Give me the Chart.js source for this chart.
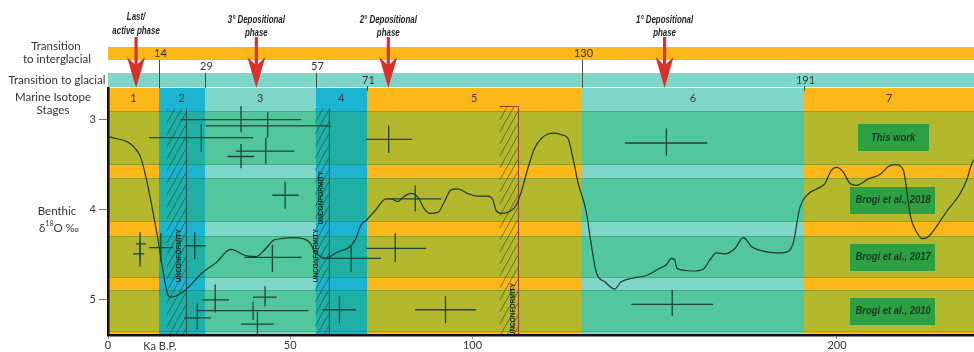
<!DOCTYPE html>
<html><head><meta charset="utf-8">
<script src="https://cdn.jsdelivr.net/npm/chart.js@4.4.0/dist/chart.umd.min.js"></script>
<style>html,body{margin:0;padding:0;background:#fff}#wrap{width:974px;height:352px;position:relative}</style>
</head><body><div id="wrap"><canvas id="c"></canvas></div>
<script>
// ---------- DATA ----------
const curveAge = [0.3, 8.5, 13.1, 14.9, 16.3, 17.2, 19.5, 21.3, 25.9, 29.6, 33.7, 37.8, 40.6, 43.3, 45.4, 47.9, 50.6, 53.4, 55.5, 56.6, 58.0, 59.3, 63.0, 66.7, 68.0, 69.4, 70.8, 73.1, 76.3, 77.7, 79.5, 81.3, 83.2, 85.0, 86.8, 88.2, 90.5, 92.3, 94.1, 96.0, 98.7, 101.5, 104.2, 105.6, 106.5, 107.9, 110.2, 112.0, 113.4, 115.2, 117.0, 118.9, 120.7, 122.5, 124.5, 126.2, 127.6, 128.9, 131.2, 132.6, 134.0, 136.3, 139.0, 140.8, 144.0, 147.7, 151.4, 153.2, 154.6, 155.5, 156.1, 157.8, 160.5, 163.3, 165.1, 166.9, 169.2, 172.0, 174.3, 176.6, 179.8, 183.4, 186.1, 188.0, 189.8, 191.7, 194.4, 196.7, 198.5, 199.9, 201.7, 203.6, 205.4, 208.6, 211.8, 214.1, 215.9, 218.2, 219.1, 220.2, 221.9, 223.3, 225.1, 226.9, 230.1, 233.8, 235.6, 237.0, 238.0];
const curveD18O = [3.19, 3.38, 4.19, 4.63, 4.93, 4.97, 4.94, 4.89, 4.70, 4.59, 4.44, 4.51, 4.52, 4.43, 4.34, 4.32, 4.31, 4.32, 4.37, 4.46, 4.51, 4.54, 4.47, 4.40, 4.32, 4.17, 4.12, 4.02, 3.88, 3.88, 3.91, 3.85, 3.82, 3.86, 3.99, 4.04, 4.03, 3.91, 3.78, 3.77, 3.82, 3.85, 3.85, 3.89, 4.01, 4.04, 4.02, 3.95, 3.80, 3.54, 3.32, 3.21, 3.16, 3.15, 3.17, 3.21, 3.43, 3.69, 4.02, 4.39, 4.70, 4.80, 4.88, 4.80, 4.76, 4.73, 4.65, 4.61, 4.54, 4.56, 4.65, 4.67, 4.68, 4.66, 4.56, 4.48, 4.49, 4.43, 4.31, 4.41, 4.46, 4.48, 4.47, 4.37, 3.98, 3.84, 3.77, 3.71, 3.56, 3.53, 3.58, 3.71, 3.73, 3.66, 3.61, 3.52, 3.50, 3.56, 3.77, 4.08, 4.25, 4.32, 4.30, 4.21, 4.02, 3.82, 3.67, 3.49, 3.42];

const crossAge     = [36.5, 43.8, 25.6, 43.3, 36.5, 77.0, 153.2, 48.6, 84.3, 8.8, 8.8, 14.5, 23.8, 45.1, 78.8, 66.7, 29.4, 43.1, 39.8, 24.5, 41.0, 63.5, 92.6, 154.8];
const crossD18O    = [3.00, 3.07, 3.20, 3.35, 3.41, 3.22, 3.26, 3.84, 3.88, 4.38, 4.49, 4.42, 4.40, 4.53, 4.43, 4.54, 5.00, 4.97, 5.12, 5.20, 5.27, 5.11, 5.11, 5.05];
const crossAgeMin  = [19.9, 26.8, 11.3, 35.1, 32.8, 70.8, 141.8, 45.1, 77.2, 7.7, 6.9, 11.3, 21.1, 37.4, 70.8, 58.9, 25.9, 39.8, 24.5, 20.9, 36.5, 58.9, 84.3, 143.6];
const crossAgeMax  = [53.0, 61.2, 39.8, 51.1, 40.1, 83.4, 164.4, 52.3, 91.4, 10.4, 9.9, 17.9, 26.8, 53.1, 87.3, 74.9, 33.2, 46.3, 55.0, 28.2, 45.6, 68.0, 101.0, 166.0];
const crossD18OMin = [2.85, 2.92, 3.05, 3.20, 3.27, 3.07, 3.10, 3.69, 3.73, 4.25, 4.35, 4.26, 4.25, 4.39, 4.26, 4.39, 4.83, 4.85, 5.02, 5.04, 5.13, 4.96, 4.96, 4.89];
const crossD18OMax = [3.14, 3.20, 3.36, 3.49, 3.54, 3.37, 3.40, 3.99, 4.02, 4.55, 4.63, 4.58, 4.55, 4.69, 4.58, 4.69, 5.14, 5.07, 5.22, 5.33, 5.39, 5.26, 5.26, 5.18];

const stageNumber  = ['1','2','3','4','5','6','7'];
const stageStartKa = [0, 14, 26.5, 57, 71, 130, 191];
const stageEndKa   = [14, 26.5, 57, 71, 130, 191, 243];
const stageKind    = ['warm','blue','light','blue','warm','light','warm'];

const rowTopD18O    = [2.90, 3.65, 4.29, 4.89];
const rowBottomD18O = [3.50, 4.14, 4.76, 5.36];
const rowLabels     = ['This work','Brogi et al., 2018','Brogi et al., 2017','Brogi et al., 2010'];
const legendAgeKa   = 215.4;

const unconfStartKa  = [16.2, 56.8, 107.5];
const unconfEndKa    = [21.4, 60.6, 112.5];
const unconfTopD18O  = [2.88, 2.88, 2.85];
const unconfLabelAge  = [19.5, 58.6, 57.2, 111.1];
const unconfLabelD18O = [4.51, 3.87, 4.51, 5.11];

const boundaryKa    = [14, 26.5, 57, 71, 130, 191, 243];
const boundaryLabel = ['14','29','57','71','130','191','243'];
const boundaryBand  = ['ig','gap','gap','g','ig','g','ig'];

const phaseAgeKa = [7.7, 40.7, 76.9, 152.7];
const phaseLine1 = ['Last/','3° Depositional','2° Depositional','1° Depositional'];
const phaseLine2 = ['active phase','phase','phase','phase'];

const xTickValues = [0, 50, 100, 200];
const yTickValues = [3, 4, 5];

// ---------- STYLE ----------
const COLORS = {
  warm:  {strip:'#fbb617', row:'#b3b82c'},
  light: {strip:'#7ed6c9', row:'#52c69d'},
  blue:  {strip:'#1cb4d3', row:'#1eafa7'}
};
const FONT = "Lato, 'Open Sans', sans-serif";
const CONDFONT = "'Liberation Sans', Arial, sans-serif";

function condText(ctx, txt, cx, cy, font, sx, color){
  ctx.save(); ctx.font = font; ctx.fillStyle = color;
  ctx.textAlign = 'center'; ctx.textBaseline = 'middle';
  ctx.translate(cx, cy); ctx.scale(sx, 1); ctx.fillText(txt, 0, 0); ctx.restore();
}

const bgPlugin = {
  id: 'bg',
  beforeDraw(chart){
    const {ctx, chartArea:a, scales:{x, y}} = chart;
    ctx.save();
    ctx.beginPath(); ctx.rect(a.left, a.top, a.right - a.left, a.bottom - a.top); ctx.clip();
    stageStartKa.forEach((s, i) => {
      const x0 = Math.round(x.getPixelForValue(s)), x1 = Math.round(x.getPixelForValue(stageEndKa[i]));
      const c = COLORS[stageKind[i]];
      ctx.fillStyle = c.strip; ctx.fillRect(x0, a.top, x1 - x0, a.bottom - a.top);
      rowTopD18O.forEach((t, j) => {
        const y0 = Math.round(y.getPixelForValue(t)), y1 = Math.round(y.getPixelForValue(rowBottomD18O[j]));
        ctx.fillStyle = c.row; ctx.fillRect(x0, y0, x1 - x0, y1 - y0);
      });
    });
    ctx.strokeStyle = 'rgba(0,50,30,0.18)'; ctx.lineWidth = 1;
    rowTopD18O.forEach((t, j) => {
      const y0 = Math.round(y.getPixelForValue(t)) + 0.5, y1 = Math.round(y.getPixelForValue(rowBottomD18O[j])) - 0.5;
      ctx.beginPath(); ctx.moveTo(a.left, y0); ctx.lineTo(a.right, y0); ctx.moveTo(a.left, y1); ctx.lineTo(a.right, y1); ctx.stroke();
    });
    unconfStartKa.forEach((s, i) => {
      const x0 = x.getPixelForValue(s), x1 = x.getPixelForValue(unconfEndKa[i]);
      const yt = y.getPixelForValue(unconfTopD18O[i]), yb = a.bottom;
      ctx.save();
      ctx.beginPath(); ctx.rect(x0, yt, x1 - x0, yb - yt); ctx.clip();
      ctx.strokeStyle = 'rgba(25,60,45,0.55)'; ctx.lineWidth = 1;
      const w = x1 - x0;
      for (let yy = yt - 10; yy < yb + w * 1.8 + 12; yy += 12) {
        ctx.beginPath(); ctx.moveTo(x0, yy); ctx.lineTo(x1, yy - w * 1.8); ctx.stroke();
      }
      ctx.restore();
      ctx.strokeStyle = i === 2 ? '#9a3b2b' : 'rgba(20,45,35,0.7)';
      ctx.lineWidth = 1;
      ctx.beginPath();
      if (i === 2) { ctx.moveTo(x0, yt + 0.5); ctx.lineTo(x1 + 0.5, yt + 0.5); }
      else { ctx.moveTo(x1 + 0.5, yt); }
      ctx.lineTo(x1 + 0.5, yb); ctx.stroke();
    });
    unconfLabelAge.forEach((ag, i) => {
      const px = x.getPixelForValue(ag), py = y.getPixelForValue(unconfLabelD18O[i]);
      ctx.save(); ctx.translate(px, py); ctx.rotate(-Math.PI / 2);
      ctx.font = "bold 6.5px " + CONDFONT; ctx.fillStyle = '#14261c';
      ctx.textAlign = 'center'; ctx.textBaseline = 'middle';
      ctx.fillText('UNCONFORMITY', 0, 0); ctx.restore();
    });
    rowLabels.forEach((lab, j) => {
      const cy = (y.getPixelForValue(rowTopD18O[j]) + y.getPixelForValue(rowBottomD18O[j])) / 2;
      const cx = x.getPixelForValue(legendAgeKa);
      ctx.font = "bold italic 11px " + CONDFONT;
      const tw = ctx.measureText(lab).width * 0.86;
      const bw = Math.max(71, tw + 10), bh = 27;
      ctx.fillStyle = '#2ea044';
      ctx.fillRect(Math.round(cx - bw / 2), Math.round(cy - bh / 2), Math.round(bw), bh);
      condText(ctx, lab, cx, cy, "bold italic 11px " + CONDFONT, 0.86, '#173a1c');
    });
    ctx.restore();
  }
};

const errPlugin = {
  id: 'err',
  afterDatasetsDraw(chart){
    const {ctx, scales:{x, y}} = chart;
    ctx.save();
    ctx.strokeStyle = '#1b4632'; ctx.lineWidth = 1.3;
    crossAge.forEach((ag, i) => {
      const cx = x.getPixelForValue(ag), cy = y.getPixelForValue(crossD18O[i]);
      ctx.beginPath();
      ctx.moveTo(x.getPixelForValue(crossAgeMin[i]), cy); ctx.lineTo(x.getPixelForValue(crossAgeMax[i]), cy);
      ctx.moveTo(cx, y.getPixelForValue(crossD18OMin[i])); ctx.lineTo(cx, y.getPixelForValue(crossD18OMax[i]));
      ctx.stroke();
    });
    ctx.restore();
  }
};

const topPlugin = {
  id: 'top',
  afterDraw(chart){
    const {ctx, chartArea:a, scales:{x, y}} = chart;
    ctx.save();
    ctx.fillStyle = COLORS.warm.strip; ctx.fillRect(a.left, 47, a.right - a.left, 13);
    ctx.fillStyle = COLORS.light.strip; ctx.fillRect(a.left, 73, a.right - a.left, 14);
    ctx.strokeStyle = '#4a4a4a'; ctx.lineWidth = 1;
    ctx.font = "11px " + FONT; ctx.fillStyle = '#333'; ctx.textAlign = 'center'; ctx.textBaseline = 'middle';
    boundaryKa.forEach((b, i) => {
      const px = Math.round(x.getPixelForValue(b)) + 0.5;
      let ty, l0, l1;
      if (boundaryBand[i] === 'ig') { ty = 53; l0 = 60; l1 = 88; }
      else if (boundaryBand[i] === 'gap') { ty = 66.5; l0 = 73; l1 = 88; }
      else { ty = 80; l0 = 86; l1 = 91; }
      ctx.beginPath(); ctx.moveTo(px, l0); ctx.lineTo(px, l1); ctx.stroke();
      ctx.fillText(boundaryLabel[i], px + 1, ty);
    });
    ctx.fillStyle = '#3b3b2a'; ctx.font = "11px " + FONT;
    stageNumber.forEach((n, i) => {
      const c = (stageStartKa[i] + Math.min(stageEndKa[i], x.max)) / 2;
      ctx.fillText(n, x.getPixelForValue(c), y.getPixelForValue(2.77));
    });
    phaseAgeKa.forEach((p, i) => {
      const px = x.getPixelForValue(p);
      ctx.fillStyle = '#d8322a';
      ctx.beginPath();
      ctx.moveTo(px - 1.6, 37); ctx.lineTo(px + 1.6, 37); ctx.lineTo(px + 1.6, 64);
      ctx.lineTo(px + 9, 57); ctx.lineTo(px, 88); ctx.lineTo(px - 9, 57); ctx.lineTo(px - 1.6, 64);
      ctx.closePath(); ctx.fill();
      condText(ctx, phaseLine1[i], px, i === 0 ? 17 : 20, "bold italic 10px " + CONDFONT, 0.79, '#1e1e1e');
      condText(ctx, phaseLine2[i], px, i === 0 ? 31 : 33, "bold italic 10px " + CONDFONT, 0.79, '#1e1e1e');
    });
    ctx.fillStyle = '#333'; ctx.font = "11.5px " + FONT; ctx.textAlign = 'center';
    ctx.fillText('Transition', 56, 46);
    ctx.fillText('to interglacial', 57, 59);
    ctx.fillText('Transition to glacial', 57, 80);
    ctx.fillText('Marine Isotope', 53, 97);
    ctx.fillText('Stages', 53, 110);
    ctx.fillText('Benthic', 57, 211);
    const p1 = 'δ', p2 = '18', p3 = 'O ‰';
    ctx.font = "11.5px " + FONT; const w1 = ctx.measureText(p1).width, w3 = ctx.measureText(p3).width;
    ctx.font = "7px " + FONT; const w2 = ctx.measureText(p2).width;
    let sx = 59 - (w1 + w2 + w3) / 2;
    ctx.textAlign = 'left';
    ctx.font = "11.5px " + FONT; ctx.fillText(p1, sx, 228);
    ctx.font = "7px " + FONT; ctx.fillText(p2, sx + w1, 224);
    ctx.font = "11.5px " + FONT; ctx.fillText(p3, sx + w1 + w2, 228);
    ctx.textAlign = 'center'; ctx.font = "11px " + FONT;
    ctx.fillText('Ka B.P.', 160, 346);
    ctx.restore();
  }
};

new Chart(document.getElementById('c'), {
  type: 'scatter',
  data: {
    datasets: [
      {
        label: 'Benthic δ18O',
        data: curveAge.map((a, i) => ({x: a, y: curveD18O[i]})),
        showLine: true, borderColor: '#1d3829', borderWidth: 1.2,
        pointRadius: 0, cubicInterpolationMode: 'monotone', fill: false
      },
      {
        label: 'Ages',
        data: crossAge.map((a, i) => ({x: a, y: crossD18O[i]})),
        pointRadius: 0, showLine: false
      }
    ]
  },
  options: {
    responsive: true, maintainAspectRatio: false, animation: false, events: [],
    layout: {padding: {top: 88, left: 0, right: 0, bottom: 0}},
    plugins: {legend: {display: false}, tooltip: {enabled: false}},
    scales: {
      x: {
        type: 'linear', min: 0, max: 237.6,
        afterBuildTicks: s => { s.ticks = xTickValues.map(v => ({value: v})); },
        afterFit: s => { s.height = 17; },
        grid: {drawOnChartArea: false, drawTicks: true, tickLength: 4, tickColor: '#888'},
        border: {color: '#111', width: 2.5},
        ticks: {color: '#333', font: {size: 11, family: FONT}, padding: 0, maxRotation: 0, autoSkip: false, callback: v => String(v)}
      },
      y: {
        type: 'linear', reverse: true, min: 2.65, max: 5.39,
        afterBuildTicks: s => { s.ticks = yTickValues.map(v => ({value: v})); },
        afterFit: s => { s.width = 108; },
        grid: {drawOnChartArea: false, tickLength: 9, tickColor: '#777'},
        border: {color: '#111', width: 2.5},
        ticks: {color: '#333', font: {size: 11, family: FONT}, padding: 3, callback: v => String(v)}
      }
    }
  },
  plugins: [bgPlugin, errPlugin, topPlugin]
});
</script>
</body></html>
